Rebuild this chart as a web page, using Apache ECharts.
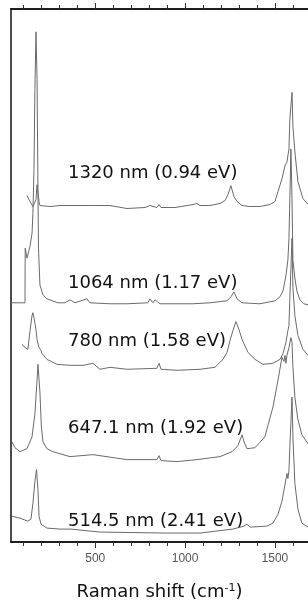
<!DOCTYPE html>
<html>
<head>
<meta charset="utf-8">
<script src="https://cdn.jsdelivr.net/npm/echarts@6/dist/echarts.min.js"></script>
<style>
html,body{margin:0;padding:0;background:#fff;}
#main{width:308px;height:606px;}
</style>
</head>
<body>
<div id="main"></div>
<script>
// spectra, [Raman shift cm-1, intensity a.u. (stacked)]
var ex1320 = [[120,349],[137,343],[153,338],[170,345],[176,360],[187,343],[192,339],[248,338],[304,339],[487,339],[582,339],[676,336],[777,337],[804,339],[843,337],[855,340],[866,337],[944,337],[1044,340],[1055,338],[1066,341],[1083,339],[1138,339],[1194,341],[1222,344],[1239,350],[1255,359],[1272,348],[1289,343],[1316,339],[1361,338],[1416,338],[1472,340],[1500,343],[1517,353],[1539,366],[1556,379],[1567,383],[1572,384],[1578,396],[1583,426],[1595,453],[1600,419],[1611,393],[1628,363],[1656,346],[1684,340]];
var ex1064 = [[31,241],[109,241],[110,296],[120,286],[137,298],[148,311],[153,331],[159,376],[164,456],[170,514],[176,466],[181,356],[184,296],[192,259],[209,249],[231,245],[292,241],[331,241],[359,244],[387,241],[454,245],[470,241],[582,240],[676,240],[793,241],[804,245],[821,241],[832,244],[860,240],[1044,240],[1138,241],[1233,243],[1255,247],[1272,252],[1289,245],[1316,241],[1416,240],[1500,243],[1528,247],[1545,253],[1561,268],[1572,284],[1578,306],[1583,346],[1589,396],[1595,346],[1600,284],[1611,266],[1622,253],[1639,244],[1661,240],[1684,239]];
var ex780 = [[92,199],[109,196],[125,194],[137,213],[148,228],[153,231],[159,226],[170,214],[176,204],[187,196],[192,198],[198,193],[203,190],[231,184],[287,179],[359,178],[432,178],[487,180],[526,174],[582,176],[676,174],[843,175],[855,180],[866,174],[955,173],[1083,174],[1166,176],[1211,184],[1233,191],[1250,203],[1266,213],[1283,222],[1289,223],[1300,214],[1317,204],[1350,191],[1389,184],[1433,179],[1489,180],[1528,184],[1545,190],[1561,201],[1572,213],[1578,218],[1583,246],[1595,306],[1600,256],[1611,228],[1628,208],[1656,194],[1684,188]];
var ex647 = [[36,101],[53,95],[81,91],[120,94],[148,106],[164,129],[176,163],[181,179],[192,151],[200,116],[209,101],[231,94],[265,91],[359,86],[487,88],[676,83],[843,83],[855,87],[866,82],[955,81],[1066,83],[1194,86],[1261,91],[1294,97],[1317,108],[1328,101],[1344,94],[1389,95],[1444,106],[1489,136],[1517,163],[1539,186],[1550,182],[1556,188],[1561,180],[1567,188],[1578,196],[1589,206],[1595,201],[1600,176],[1611,146],[1628,123],[1650,108],[1684,99]];
var ex514 = [[36,26],[81,24],[125,21],[142,23],[153,39],[164,61],[173,73],[181,53],[187,26],[198,18],[231,14],[304,13],[365,13],[370,15],[376,13],[526,10],[899,9],[1083,9],[1266,13],[1328,16],[1344,18],[1361,15],[1455,16],[1489,19],[1517,28],[1539,41],[1556,58],[1567,69],[1572,64],[1578,72],[1583,96],[1595,146],[1600,106],[1611,59],[1628,33],[1650,19],[1684,15]];

var spectra = [ex1320, ex1064, ex780, ex647, ex514];
var labels = ['1320 nm (0.94 eV)', '1064 nm (1.17 eV)', '780 nm (1.58 eV)', '647.1 nm (1.92 eV)', '514.5 nm (2.41 eV)'];
var minorTicks = [100,200,300,400,500,600,700,800,900,1000,1100,1200,1300,1400,1500,1600];
var majorTicks = [500,1000,1500];

// layout only
var labelTop = [173, 283, 341, 428, 521];
var xMin = 31, xMax = 1684;
var textFont = '"Comic Sans MS", "DejaVu Sans", sans-serif';

function xAx(pos, ticks, len, withLabels) {
    return {
        type: 'value',
        position: pos,
        min: xMin,
        max: xMax,
        axisLine: {show: true, onZero: false, lineStyle: {color: '#111', width: 1.5}},
        axisTick: {show: true, inside: false, length: len, customValues: ticks, lineStyle: {color: '#333', width: 1}},
        axisLabel: withLabels ? {
            show: true, customValues: majorTicks, margin: 11,
            color: '#555', fontSize: 12, fontFamily: 'Liberation Sans, Arial, sans-serif',
            formatter: function (v) { return String(v); }
        } : {show: false},
        splitLine: {show: false}
    };
}

var myChart = echarts.init(document.getElementById('main'));

var xAxes = [
    xAx('bottom', minorTicks, 4, true),
    xAx('bottom', majorTicks, 6, false),
    xAx('top', minorTicks, 4, false),
    xAx('top', majorTicks, 6, false)
];
xAxes[0].name = 'Raman shift (cm{sup|-1})';
xAxes[0].nameLocation = 'middle';
xAxes[0].nameGap = 41;
xAxes[0].nameTextStyle = {
    color: '#111', fontSize: 18, fontFamily: textFont,
    rich: {sup: {fontSize: 11, verticalAlign: 'top', color: '#111', fontFamily: textFont, padding: [0, 0, 6, 0]}}
};

var series = spectra.map(function (d) {
    return {
        type: 'line',
        xAxisIndex: 0,
        data: d,
        showSymbol: false,
        lineStyle: {color: '#6a6a6a', width: 1},
        silent: true
    };
});

var graphics = labels.map(function (t, i) {
    return {
        type: 'text',
        x: 68,
        y: labelTop[i],
        style: {text: t, fill: '#111', font: '18px ' + textFont, verticalAlign: 'middle', align: 'left'}
    };
});

option = {
    animation: false,
    backgroundColor: '#fff',
    grid: {left: 11, right: 0, top: 9, bottom: 60},
    xAxis: xAxes,
    yAxis: {
        type: 'value', min: 0, max: 537,
        axisLine: {show: true, lineStyle: {color: '#111', width: 1.5}},
        axisTick: {show: false}, axisLabel: {show: false}, splitLine: {show: false}
    },
    series: series,
    graphic: graphics
};

myChart.setOption(option);
</script>
</body>
</html>
